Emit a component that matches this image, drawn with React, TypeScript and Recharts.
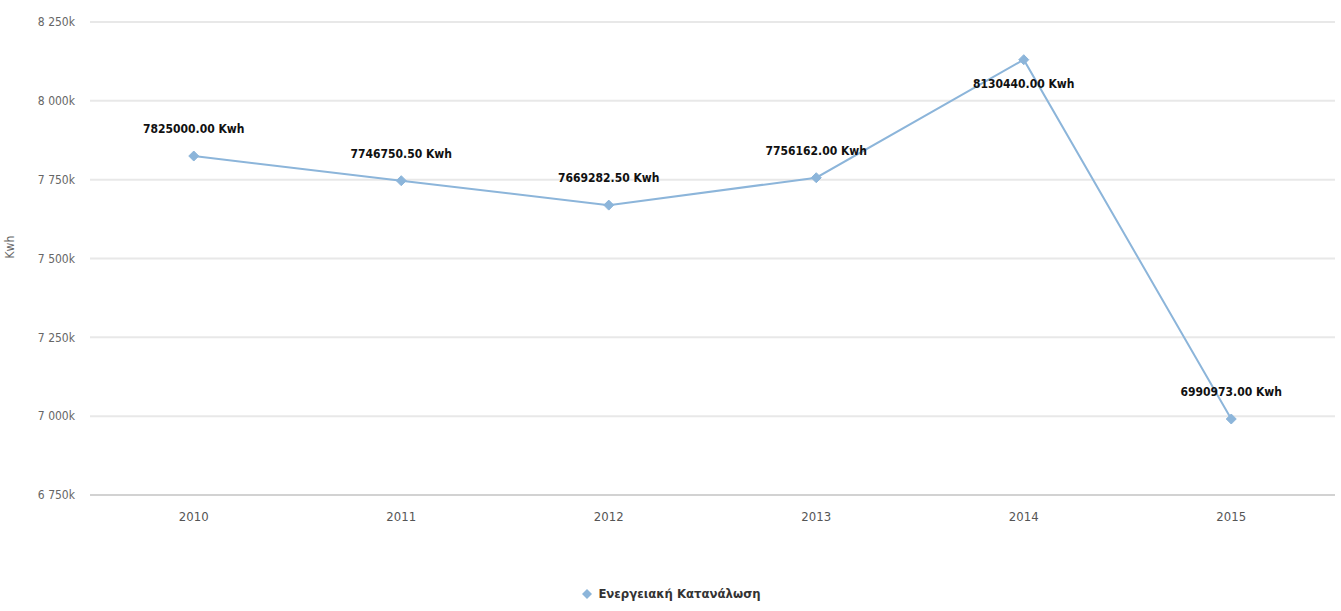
import React from 'react';
import { LineChart, Line, XAxis, YAxis, CartesianGrid, Legend, LabelList } from 'recharts';

const years = ['2010', '2011', '2012', '2013', '2014', '2015'];
const consumption = [7825000.0, 7746750.5, 7669282.5, 7756162.0, 8130440.0, 6990973.0];
const yTicks = [6750000, 7000000, 7250000, 7500000, 7750000, 8000000, 8250000];
const seriesName = 'Ενεργειακή Κατανάλωση';
const unit = 'Kwh';

const data = years.map((y, i) => ({ idx: i, year: y, value: consumption[i] }));
const boundaryTicks = years.map((_, i) => i - 0.5).concat([years.length - 0.5]);

const FONT = "'DejaVu Sans Condensed', 'Liberation Sans Narrow', 'Roboto', sans-serif";
const LINE_COLOR = '#8cb5da';
const PLOT_TOP = 22;

const fmtY = (v: number) => {
  const k = Math.round(v / 1000);
  return `${Math.floor(k / 1000)} ${String(k % 1000).padStart(3, '0')}k`;
};

const Diamond = (props: any) => {
  const { cx, cy } = props;
  if (cx == null || cy == null) return null;
  const r = 5;
  return (
    <polygon
      points={`${cx},${cy - r} ${cx + r},${cy} ${cx},${cy + r} ${cx - r},${cy}`}
      fill={LINE_COLOR}
      stroke={LINE_COLOR}
    />
  );
};

const DataLabel = (props: any) => {
  const { x, y, value } = props;
  if (x == null || y == null) return null;
  const above = y - 27 > PLOT_TOP + 40;
  const ty = above ? y - 27 : y + 24;
  return (
    <text
      x={x}
      y={ty}
      textAnchor="middle"
      dominantBaseline="central"
      fontFamily={FONT}
      fontWeight="bold"
      fontSize={12}
      fill="#111"
    >
      {`${Number(value).toFixed(2)} ${unit}`}
    </text>
  );
};

const LegendContent = () => (
  <div style={{ width: 1341, display: 'flex', justifyContent: 'center', alignItems: 'center', fontFamily: FONT, fontSize: 13, color: '#333' }}>
    <svg width={14} height={14} style={{ marginRight: 4 }}>
      <polygon points="7,2 12,7 7,12 2,7" fill={LINE_COLOR} />
    </svg>
    <span style={{ fontWeight: 'bold' }}>{seriesName}</span>
  </div>
);

export default function App() {
  return (
    <div style={{ position: 'absolute', left: 0, top: 0, width: 1341, height: 611, background: '#fff' }}>
      <LineChart width={1341} height={611} data={data} margin={{ top: PLOT_TOP, right: 6, bottom: 10, left: 0 }}>
        <CartesianGrid horizontal vertical={false} stroke="#e8e8e8" strokeWidth={2} />
        <XAxis
          xAxisId="bounds"
          type="number"
          dataKey="idx"
          domain={[-0.5, years.length - 0.5]}
          ticks={boundaryTicks}
          tickFormatter={() => ''}
          tickSize={26}
          tickLine={{ stroke: '#e2e2e2' }}
          axisLine={false}
          height={0}
          allowDataOverflow
        />
        <XAxis
          type="number"
          dataKey="idx"
          domain={[-0.5, years.length - 0.5]}
          ticks={years.map((_, i) => i)}
          tickFormatter={(v: number) => years[v] ?? ''}
          tickLine={false}
          tickMargin={11}
          axisLine={{ stroke: '#d2d2d2', strokeWidth: 2 }}
          tick={{ fill: '#555', fontSize: 13, fontFamily: FONT }}
          height={91}
          allowDataOverflow
        />
        <YAxis
          domain={[6750000, 8250000]}
          ticks={yTicks}
          tickFormatter={fmtY}
          axisLine={false}
          tickLine={false}
          tickMargin={9}
          width={90}
          tick={{ fill: '#666', fontSize: 12, fontFamily: FONT }}
          label={{ value: unit, angle: -90, position: 'insideLeft', offset: 10, fill: '#666', fontSize: 12, fontFamily: FONT }}
        />
        <Legend verticalAlign="bottom" content={<LegendContent />} wrapperStyle={{ left: 0, width: 1341 }} />
        <Line
          type="linear"
          dataKey="value"
          name={seriesName}
          stroke={LINE_COLOR}
          strokeWidth={2}
          dot={<Diamond />}
          activeDot={false}
          isAnimationActive={false}
        >
          <LabelList dataKey="value" content={<DataLabel />} />
        </Line>
      </LineChart>
    </div>
  );
}
